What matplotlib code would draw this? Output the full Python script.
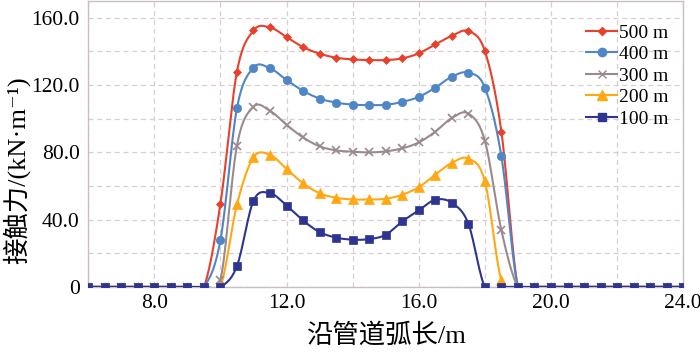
import numpy as np
import matplotlib
matplotlib.use("Agg")
import matplotlib.pyplot as plt
from matplotlib.lines import Line2D

plt.rcParams['font.family'] = ['Liberation Serif', 'Noto Sans CJK SC', 'DejaVu Serif']

# arc length along the pipe, m
arc = np.arange(6.0, 24.01, 0.5)

# contact force, kN/m, values from 10.0 to 19.0 m (zero elsewhere)
mid_500 = [49.4, 128.0, 152.5, 154.3, 148.6, 142.6, 138.7, 136.3, 135.3, 134.9,
           134.9, 135.9, 138.9, 144.2, 149.3, 152.1, 140.3, 92.3, 0.0]
mid_400 = [27.7, 106.3, 130.4, 130.0, 123.1, 116.6, 112.0, 109.6, 108.4, 108.1,
           108.3, 110.0, 113.0, 118.5, 125.0, 127.4, 118.5, 77.6, 0.0]
mid_300 = [4.0, 84.0, 107.1, 104.7, 96.4, 88.9, 83.6, 81.2, 80.4, 80.0,
           80.6, 82.4, 85.9, 92.3, 100.4, 103.1, 86.9, 33.6, 0.0]
mid_200 = [0.0, 49.0, 77.0, 78.5, 70.2, 61.6, 55.7, 53.0, 52.0, 52.0,
           52.4, 54.8, 59.3, 66.8, 73.7, 76.3, 62.8, 4.0, 0.0]
mid_100 = [0.0, 12.4, 51.2, 55.7, 48.4, 39.5, 32.6, 29.3, 28.1, 28.4,
           31.0, 38.9, 45.5, 51.8, 50.0, 37.6, 0.0, 0.0, 0.0]

zeros_before = [0.0] * 8   # 6.0 .. 9.5
zeros_after = [0.0] * 10   # 19.5 .. 24.0

labels = ['500 m', '400 m', '300 m', '200 m', '100 m']
series = [mid_500, mid_400, mid_300, mid_200, mid_100]
colors = ['#E8402A', '#4F86C6', '#9A8A8D', '#FFA814', '#2E3590']
markers = ['D', 'o', 'x', '^', 's']
msizes = [4.5, 6, 5.5, 6.5, 6]

xticks = [8.0, 12.0, 16.0, 20.0, 24.0]
xticklabels = ['8.0', '12.0', '16.0', '20.0', '24.0']
yticks = [0, 40, 80, 120, 160]
yticklabels = ['0', '40.0', '80.0', '120.0', '160.0']


def smooth(x, y, n=16):
    # Excel-like smoothed line (Catmull-Rom bezier)
    x = np.asarray(x, float)
    y = np.asarray(y, float)
    xs, ys = [], []
    t = np.linspace(0, 1, n)
    for i in range(len(x) - 1):
        i0 = max(i - 1, 0)
        i3 = min(i + 2, len(x) - 1)
        c1x = x[i] + (x[i + 1] - x[i0]) / 6
        c1y = y[i] + (y[i + 1] - y[i0]) / 6
        c2x = x[i + 1] - (x[i3] - x[i]) / 6
        c2y = y[i + 1] - (y[i3] - y[i]) / 6
        bx = (1-t)**3*x[i] + 3*(1-t)**2*t*c1x + 3*(1-t)*t**2*c2x + t**3*x[i+1]
        by = (1-t)**3*y[i] + 3*(1-t)**2*t*c1y + 3*(1-t)*t**2*c2y + t**3*y[i+1]
        xs.extend(bx[:-1])
        ys.extend(by[:-1])
    xs.append(x[-1])
    ys.append(y[-1])
    return np.array(xs), np.array(ys)


fig = plt.figure(figsize=(7.0, 3.52), dpi=100)
ax = fig.add_axes([0.126, 0.185, 0.85, 0.812])

handles = []
for lab, mid, c, m, ms in zip(labels, series, colors, markers, msizes):
    y = np.array(zeros_before + mid + zeros_after)
    sx, sy = smooth(arc, y)
    ax.plot(sx, sy, color=c, linewidth=1.5, zorder=3)
    ax.plot(arc, y, linestyle='none', marker=m, color=c, markersize=ms,
            markeredgewidth=1.2 if m == 'x' else 0.5, zorder=4)
    handles.append(Line2D([], [], color=c, linewidth=1.5, marker=m, markersize=ms))

ax.set_xlim(6.0, 24.0)
ax.set_ylim(0, 170)
ax.set_xticks(xticks)
ax.set_xticklabels(xticklabels)
ax.set_xticks(np.arange(6.0, 24.01, 2.0), minor=True)
ax.set_yticks(yticks)
ax.set_yticklabels(yticklabels)
ax.set_yticks(np.arange(20, 161, 40), minor=True)
ax.tick_params(which='both', length=0, labelsize=15.5, pad=6)
ax.tick_params(axis='x', pad=5)
ax.grid(True, which='both', color='#D8CDD0', linestyle=(0, (4, 3)), linewidth=0.9)
ax.set_axisbelow(True)
for s in ax.spines.values():
    s.set_color('#C9BFC2')
    s.set_linewidth(1.0)

ax.set_xlabel('沿管道弧长/m', fontsize=19)
ax.xaxis.set_label_coords(0.5, -0.125)
ax.set_ylabel('接触力/(kN·m⁻¹)', fontsize=19)
ax.yaxis.set_label_coords(-0.098, 0.41)

ax.legend(handles=handles, labels=labels, loc='upper right', frameon=False,
          fontsize=14, handlelength=1.6, handletextpad=0.1, labelspacing=0.2,
          bbox_to_anchor=(0.995, 0.96), borderaxespad=0.2)

fig.savefig('out.png', dpi=100)
